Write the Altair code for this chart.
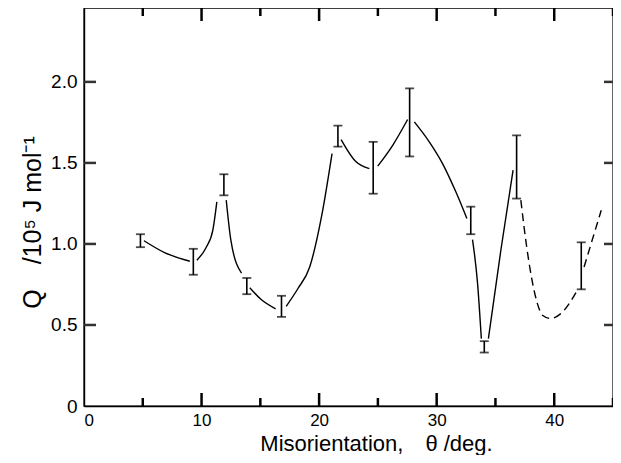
import altair as alt
import pandas as pd

# ---- data ----
bar_x  = [4.8, 9.3, 11.9, 13.85, 16.8, 21.6, 24.6, 27.7, 32.9, 34.05, 36.8, 42.3]
bar_lo = [0.98, 0.81, 1.30, 0.69, 0.55, 1.60, 1.31, 1.54, 1.06, 0.33, 1.28, 0.72]
bar_hi = [1.06, 0.97, 1.43, 0.79, 0.68, 1.73, 1.63, 1.96, 1.23, 0.40, 1.67, 1.01]

solid_segments = {
    "A": ([5.1, 6.9, 9.0], [1.02, 0.945, 0.893]),
    "B": ([9.6, 10.4, 10.96, 11.3], [0.90, 0.98, 1.085, 1.26]),
    "C": ([12.1, 12.5, 13.4], [1.27, 1.02, 0.82]),
    "D": ([14.1, 15.07, 16.3], [0.73, 0.657, 0.60]),
    "E": ([17.2, 18.2, 19.2, 20.2, 21.1], [0.615, 0.725, 0.858, 1.167, 1.558]),
    "F": ([21.87, 23.1, 24.27], [1.644, 1.51, 1.465]),
    "G": ([24.98, 26.26, 27.53], [1.48, 1.609, 1.768]),
    "H": ([28.1, 29.37, 30.5, 31.64, 32.57], [1.753, 1.63, 1.496, 1.32, 1.157]),
    "I": ([33.05, 33.48, 33.8], [1.027, 0.755, 0.416]),
    "J": ([34.4, 35.46, 36.5], [0.416, 0.961, 1.455]),
}
dashed_segments = {
    "K": ([37.16, 37.7, 38.57, 39.0, 39.7, 40.56, 41.97],
          [1.27, 0.96, 0.632, 0.56, 0.54, 0.57, 0.714]),
    "L": ([42.54, 44.0], [0.858, 1.208]),
}

x_major = [10, 20, 30, 40]
x_minor = [5, 15, 25, 35, 45]
y_major = [0.5, 1.0, 1.5, 2.0]
x_labels = [0, 10, 20, 30, 40]
y_labels = [0, 0.5, 1.0, 1.5, 2.0]

W, H = 529, 398
XMAX, YMAX = 45, 2.456
FONT = "Liberation Sans"
SP = "\u2002"


def seg_frame(segs):
    rows = []
    for name, (xs_, ys_) in segs.items():
        for i, (a, b) in enumerate(zip(xs_, ys_)):
            rows.append({"seg": name, "x": a, "y": b, "i": i})
    return pd.DataFrame(rows)


solid_df = seg_frame(solid_segments)
dashed_df = seg_frame(dashed_segments)
bars_df = pd.DataFrame({"x": bar_x, "lo": bar_lo, "hi": bar_hi})

xs = alt.Scale(domain=[0, XMAX], nice=False, zero=False)
ys = alt.Scale(domain=[0, YMAX], nice=False, zero=False)

xaxis = alt.Axis(
    values=x_labels, ticks=False, grid=False, domainColor="black", domainWidth=1.4,
    labelFont=FONT, labelFontSize=17, labelColor="black", labelPadding=6,
    title=f"Misorientation,{SP}{SP}θ /deg.", titleFont=FONT, titleFontSize=22,
    titleFontWeight="normal", titleColor="black", titleX=292, titleY=44,
    titleBaseline="alphabetic", titleAlign="center",
)
yaxis = alt.Axis(
    values=y_labels, ticks=False, grid=False, domainColor="black", domainWidth=1.4,
    labelFont=FONT, labelFontSize=19, labelColor="black", labelPadding=7,
    labelExpr="datum.value == 0 ? '0' : format(datum.value, '.1f')",
    title=f"Q{SP}{SP}/10⁵ J mol⁻¹", titleFont=FONT, titleFontSize=25,
    titleFontWeight="normal", titleColor="black", titleX=-44, titleY=214,
    titleBaseline="alphabetic", titleAlign="center", titleAngle=270,
)

solid = alt.Chart(solid_df).mark_line(
    color="black", strokeWidth=1.4, interpolate="monotone"
).encode(
    x=alt.X("x:Q", scale=xs, axis=xaxis),
    y=alt.Y("y:Q", scale=ys, axis=yaxis),
    detail="seg:N",
    order="i:Q",
)

dashed = alt.Chart(dashed_df).mark_line(
    color="black", strokeWidth=1.4, interpolate="monotone", strokeDash=[8, 5]
).encode(
    x=alt.X("x:Q", scale=xs), y=alt.Y("y:Q", scale=ys),
    detail="seg:N", order="i:Q",
)

bar_rule = alt.Chart(bars_df).mark_rule(color="black", strokeWidth=1.6).encode(
    x=alt.X("x:Q", scale=xs), y=alt.Y("lo:Q", scale=ys), y2="hi:Q"
)
cap_lo = alt.Chart(bars_df).mark_tick(
    color="black", orient="horizontal", size=9, thickness=1.8
).encode(x=alt.X("x:Q", scale=xs), y=alt.Y("lo:Q", scale=ys))
cap_hi = alt.Chart(bars_df).mark_tick(
    color="black", orient="horizontal", size=9, thickness=1.8
).encode(x=alt.X("x:Q", scale=xs), y=alt.Y("hi:Q", scale=ys))


# inward ticks on all four sides (axis decoration; lengths in pixels)
def xticks(vals, size, top, color):
    y0 = 0 if top else H
    y1 = size if top else H - size
    return alt.Chart(pd.DataFrame({"x": vals})).mark_rule(
        color=color, strokeWidth=2.5
    ).encode(x=alt.X("x:Q", scale=xs), y=alt.value(y0), y2=alt.value(y1))


def yticks(vals, size, right, color):
    x0 = W if right else 0
    x1 = W - size if right else size
    return alt.Chart(pd.DataFrame({"y": vals})).mark_rule(
        color=color, strokeWidth=2.5
    ).encode(y=alt.Y("y:Q", scale=ys), x=alt.value(x0), x2=alt.value(x1))


ticks = [
    xticks(x_major, 13, False, "black"), xticks(x_minor, 8, False, "black"),
    xticks(x_major, 13, True, "black"), xticks(x_minor, 8, True, "black"),
    yticks(y_major, 12, False, "#333333"), yticks(y_major, 9, True, "#333333"),
]

chart = alt.layer(solid, dashed, bar_rule, cap_lo, cap_hi, *ticks).properties(
    width=W, height=H,
    autosize=alt.AutoSizeParams(type="none"),
    padding={"left": 76, "top": 0, "right": 0, "bottom": 49},
    background="white",
).configure_view(stroke="black", strokeWidth=1.4)

chart.save("out.html", embed_options={"renderer": "svg", "actions": False})
